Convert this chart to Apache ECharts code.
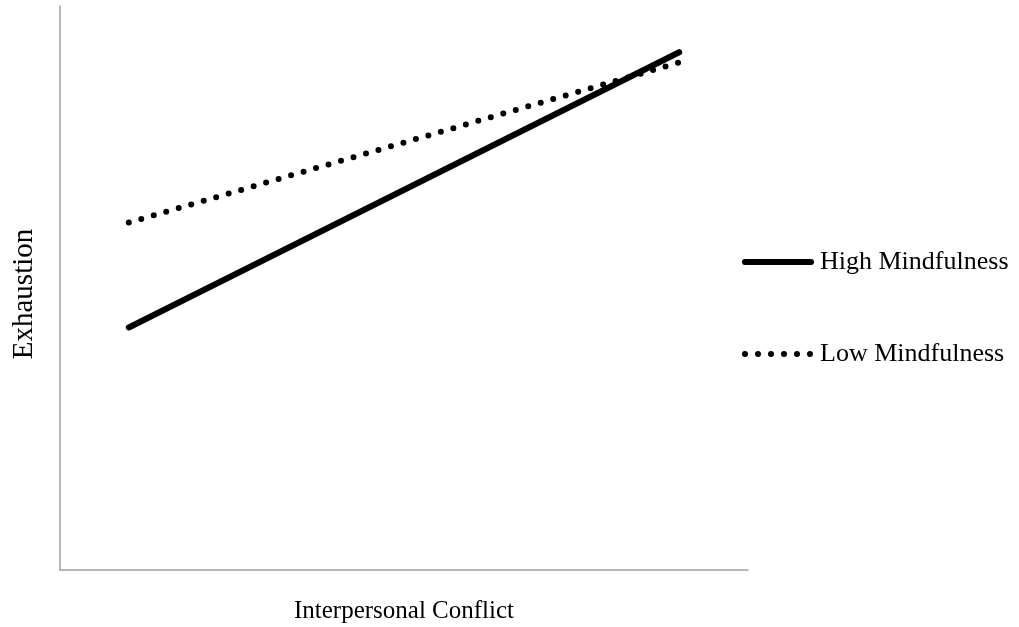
<!DOCTYPE html>
<html>
<head>
<meta charset="utf-8">
<script src="https://cdn.jsdelivr.net/npm/echarts@6/dist/echarts.min.js"></script>
<style>
  html, body { margin: 0; padding: 0; background: #fff; }
  #main { width: 1019px; height: 627px; }
</style>
</head>
<body>
<div id="main"></div>
<script>
// conflict level: low (-1 SD) and high (+1 SD)
var conflictLevels = [-1, 1];
var highMindfulness = [2.15, 4.59];
var lowMindfulness = [3.08, 4.50];
var seriesNames = ['High Mindfulness', 'Low Mindfulness'];

var font = '"Liberation Serif", "Times New Roman", serif';
var dotted = [0, 13];

function pairs(xs, ys) {
    var out = [];
    for (var i = 0; i < xs.length; i++) {
        out.push([xs[i], ys[i]]);
    }
    return out;
}

var myChart = echarts.init(document.getElementById('main'), null, { renderer: 'canvas' });

var option = {
    backgroundColor: '#ffffff',
    animation: false,
    grid: { left: 60, top: 6, right: 271, bottom: 57, containLabel: false, outerBoundsMode: 'none' },
    legend: {
        orient: 'vertical',
        left: 742,
        top: 249,
        padding: 0,
        itemWidth: 66,
        itemHeight: 14,
        itemGap: 66,
        itemStyle: { opacity: 0 },
        textStyle: { fontFamily: font, fontSize: 26, color: '#000', padding: [0, 0, 0, 4] },
        data: [
            { name: seriesNames[0], lineStyle: { color: '#000', width: 6, cap: 'round' } },
            { name: seriesNames[1], lineStyle: { color: '#000', width: 6, cap: 'round', type: dotted } }
        ]
    },
    xAxis: {
        type: 'value',
        min: -1.25,
        max: 1.25,
        name: 'Interpersonal Conflict',
        nameLocation: 'middle',
        nameGap: 29,
        nameTextStyle: { fontFamily: font, fontSize: 25, color: '#000' },
        axisLine: { show: true, onZero: false, lineStyle: { color: '#a0a0a0', width: 1.5 } },
        axisTick: { show: false },
        axisLabel: { show: false },
        splitLine: { show: false }
    },
    yAxis: {
        type: 'value',
        min: 0,
        max: 5,
        name: 'Exhaustion',
        nameLocation: 'middle',
        nameGap: 21,
        nameTextStyle: { fontFamily: font, fontSize: 29, color: '#000', padding: [0, 12, 0, 0] },
        axisLine: { show: true, onZero: false, lineStyle: { color: '#a0a0a0', width: 1.5 } },
        axisTick: { show: false },
        axisLabel: { show: false },
        splitLine: { show: false }
    },
    series: [
        {
            name: seriesNames[0],
            type: 'line',
            data: pairs(conflictLevels, highMindfulness),
            symbol: 'none',
            lineStyle: { color: '#000', width: 6, cap: 'round' },
            itemStyle: { color: '#000' }
        },
        {
            name: seriesNames[1],
            type: 'line',
            data: pairs(conflictLevels, lowMindfulness),
            symbol: 'none',
            lineStyle: { color: '#000', width: 6, type: dotted, cap: 'round' },
            itemStyle: { color: '#000' }
        }
    ]
};

myChart.setOption(option);
</script>
</body>
</html>
